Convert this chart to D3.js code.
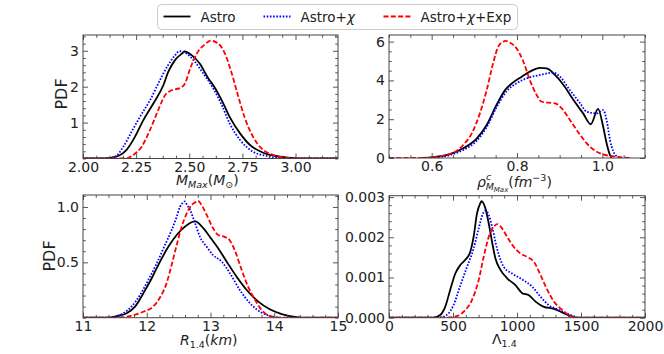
<!DOCTYPE html>
<html>
<head>
<meta charset="utf-8">
<script src="https://cdn.jsdelivr.net/npm/d3@7"></script>
<style>
  body { margin: 0; background: #fff; }
  svg { display: block; font-family: "DejaVu Sans", sans-serif; }
</style>
</head>
<body>
<svg id="fig"></svg>
<script>
// values, [x, pdf]
const mmaxAstro = [[2.0,0],[2.1,0],[2.166,0.07],[2.205,0.24],[2.245,0.61],[2.284,1.07],[2.331,1.53],[2.378,2.04],[2.401,2.41],[2.433,2.74],[2.469,2.94],[2.478,2.98],[2.511,2.88],[2.55,2.64],[2.59,2.23],[2.613,2.04],[2.653,1.62],[2.69,1.16],[2.739,0.70],[2.786,0.375],[2.848,0.16],[2.927,0.05],[3.02,0],[3.2,0]];
const mmaxChi = [[2.0,0],[2.1,0.005],[2.15,0.05],[2.19,0.33],[2.229,0.75],[2.268,1.16],[2.315,1.62],[2.362,2.18],[2.40,2.6],[2.433,2.87],[2.453,2.99],[2.488,2.92],[2.527,2.69],[2.566,2.37],[2.613,1.95],[2.653,1.49],[2.69,0.98],[2.74,0.51],[2.80,0.19],[2.864,0.07],[2.93,0.01],[3.0,0],[3.2,0]];
const mmaxExp = [[2.0,0],[2.2,0],[2.237,0.1],[2.276,0.33],[2.315,0.79],[2.354,1.35],[2.386,1.76],[2.417,1.90],[2.456,1.96],[2.48,2.09],[2.504,2.5],[2.535,2.92],[2.574,3.18],[2.6,3.28],[2.637,3.2],[2.668,2.92],[2.70,2.37],[2.731,1.72],[2.762,1.12],[2.80,0.61],[2.84,0.28],[2.895,0.1],[2.96,0.02],[3.05,0],[3.2,0]];

const rhoAstro = [[0.58,0],[0.604,0.04],[0.643,0.2],[0.674,0.5],[0.706,1.01],[0.729,1.7],[0.752,2.73],[0.772,3.5],[0.791,3.9],[0.811,4.19],[0.83,4.45],[0.854,4.65],[0.87,4.62],[0.889,4.28],[0.909,3.76],[0.932,3.0],[0.955,2.3],[0.973,1.74],[0.99,2.53],[1.002,1.61],[1.01,0.76],[1.018,0.15],[1.022,0]];
const rhoChi = [[0.6,0],[0.643,0.15],[0.674,0.41],[0.706,0.9],[0.729,1.6],[0.752,2.61],[0.776,3.45],[0.799,3.85],[0.823,4.11],[0.854,4.28],[0.885,4.4],[0.901,4.19],[0.924,3.5],[0.948,2.82],[0.963,2.39],[0.987,2.3],[1.002,2.47],[1.01,1.96],[1.018,0.93],[1.026,0.33],[1.037,0.05],[1.045,0]];
const rhoExp = [[0.5,0],[0.58,0],[0.62,0.1],[0.651,0.27],[0.674,0.67],[0.694,1.27],[0.713,2.3],[0.729,3.5],[0.744,4.88],[0.756,5.74],[0.768,6.0],[0.772,6.04],[0.784,5.94],[0.799,5.65],[0.815,4.96],[0.83,4.02],[0.846,3.25],[0.858,2.9],[0.873,2.85],[0.889,2.82],[0.905,2.56],[0.924,1.96],[0.948,1.19],[0.971,0.58],[0.995,0.24],[1.03,0.07],[1.065,0]];

const r14Astro = [[11,0],[11.4,0],[11.53,0.015],[11.685,0.04],[11.816,0.1],[11.946,0.22],[12.078,0.356],[12.208,0.506],[12.338,0.64],[12.47,0.747],[12.6,0.822],[12.73,0.867],[12.76,0.87],[12.887,0.808],[12.99,0.73],[13.12,0.627],[13.254,0.506],[13.41,0.37],[13.568,0.25],[13.75,0.145],[13.93,0.076],[14.117,0.033],[14.35,0.006],[14.5,0],[15,0]];
const r14Chi = [[11,0],[11.45,0],[11.63,0.04],[11.76,0.1],[11.894,0.205],[12.024,0.34],[12.156,0.49],[12.286,0.657],[12.39,0.79],[12.47,0.912],[12.52,1.0],[12.57,1.04],[12.6,1.05],[12.62,1.03],[12.68,0.973],[12.757,0.853],[12.835,0.73],[12.94,0.64],[13.04,0.566],[13.176,0.506],[13.306,0.4],[13.46,0.25],[13.62,0.13],[13.776,0.054],[13.985,0.01],[14.1,0]];
const r14Exp = [[11,0],[11.5,0],[11.737,0.015],[11.946,0.054],[12.1,0.1],[12.2,0.175],[12.31,0.31],[12.39,0.476],[12.47,0.657],[12.548,0.822],[12.627,0.943],[12.705,1.018],[12.78,1.048],[12.8,1.055],[12.86,1.018],[12.94,0.928],[13.04,0.808],[13.12,0.747],[13.22,0.73],[13.3,0.70],[13.38,0.61],[13.49,0.43],[13.59,0.28],[13.7,0.16],[13.8,0.07],[13.93,0.015],[14.1,0],[15,0]];

const lamAstro = [[0,0],[348,0],[400,0.000067],[439,0.00027],[478,0.00069],[518,0.0011],[557,0.00131],[596,0.00144],[635,0.00164],[661,0.00201],[688,0.0026],[714,0.00285],[722,0.0029],[753,0.00272],[779,0.00235],[805,0.00189],[831,0.00148],[871,0.00119],[923,0.00098],[988,0.00081],[1041,0.00061],[1093,0.00056],[1145,0.0004],[1210,0.00027],[1289,0.00022],[1341,0.00015],[1420,0.00004],[1472,0],[2000,0]];
const lamChi = [[0,0],[390,0],[452,0.00007],[504,0.00031],[557,0.0008],[609,0.00126],[661,0.00172],[701,0.00222],[735,0.0026],[753,0.00266],[779,0.00256],[805,0.00227],[844,0.00172],[897,0.00126],[962,0.0011],[1041,0.00095],[1119,0.00077],[1184,0.00052],[1249,0.00031],[1315,0.00021],[1394,0.0001],[1472,0]];
const lamExp = [[0,0],[430,0],[531,0.00004],[596,0.00019],[648,0.00044],[701,0.00094],[740,0.00152],[779,0.00201],[818,0.00226],[844,0.00233],[884,0.00222],[923,0.00201],[975,0.00176],[1027,0.0016],[1080,0.00151],[1132,0.00139],[1184,0.00106],[1237,0.00069],[1289,0.0004],[1354,0.00019],[1420,0.00004],[1472,0],[2000,0]];

const seriesNames = ['Astro', 'Astro+\u03c7', 'Astro+\u03c7+Exp'];

// tick values
const mmaxXTicks = [2.0, 2.25, 2.5, 2.75, 3.0];
const mmaxYTicks = [1, 2, 3];
const rhoXTicks = [0.6, 0.8, 1.0];
const rhoYTicks = [0, 2, 4, 6];
const r14XTicks = [11, 12, 13, 14, 15];
const r14YTicks = [0.5, 1.0];
const lamXTicks = [0, 500, 1000, 1500, 2000];
const lamYTicks = [0, 0.001, 0.002, 0.003];

const W = 664, H = 354;
const styles = [
  { color: '#000000', dash: null },
  { color: '#0000ff', dash: '1.6,1.6' },
  { color: '#ff0000', dash: '5,2.3' }
];
const frameColor = '#444';

const panels = [
  { id: 'mmax', box: [83, 35, 338, 158.5], xd: [2.0, 3.2], yd: [0, 3.44],
    xt: mmaxXTicks, yt: mmaxYTicks, xf: d3.format('.2f'), yf: d3.format('d'),
    xm: 0.0625, ym: 0.2, data: [mmaxAstro, mmaxChi, mmaxExp], ylab: [61, 94] },
  { id: 'rho', box: [389, 35, 645, 158], xd: [0.5, 1.1], yd: [0, 6.34],
    xt: rhoXTicks, yt: rhoYTicks, xf: d3.format('.1f'), yf: d3.format('d'),
    xm: 0.05, ym: 0.5, data: [rhoAstro, rhoChi, rhoExp] },
  { id: 'r14', box: [83, 195, 338, 317.7], xd: [11, 15], yd: [0, 1.108],
    xt: r14XTicks, yt: r14YTicks, xf: d3.format('d'), yf: d3.format('.1f'),
    xm: 0.2, ym: 0.1, data: [r14Astro, r14Chi, r14Exp], ylab: [49, 256] },
  { id: 'lam', box: [389, 195.7, 645, 317.7], xd: [0, 2000], yd: [0, 0.003035],
    xt: lamXTicks, yt: lamYTicks, xf: d3.format('d'), yf: d3.format('.3f'),
    xm: 100, ym: 0.0002, data: [lamAstro, lamChi, lamExp] }
];

const svg = d3.select('#fig').attr('width', W).attr('height', H);
svg.append('rect').attr('width', W).attr('height', H).attr('fill', '#fff');

function minorTicks(dom, step, major) {
  const out = [];
  const start = Math.ceil(dom[0] / step - 1e-6);
  for (let i = start; i * step <= dom[1] + 1e-9; i++) {
    const v = +(i * step).toFixed(8);
    if (!major.some(m => Math.abs(m - v) < step * 0.01)) out.push(v);
  }
  return out;
}

function styleAxis(g) {
  g.select('.domain').remove();
  g.selectAll('line').attr('stroke', frameColor).attr('stroke-width', 0.9);
  g.selectAll('text').attr('fill', '#222').attr('font-size', 14)
    .attr('font-family', '"DejaVu Sans", sans-serif');
}

panels.forEach(p => {
  const [x0, y0, x1, y1] = p.box;
  const x = d3.scaleLinear().domain(p.xd).range([x0, x1]);
  const y = d3.scaleLinear().domain(p.yd).range([y1, y0]);
  const g = svg.append('g');

  g.append('clipPath').attr('id', 'clip-' + p.id)
    .append('rect').attr('x', x0).attr('y', y0 - 1).attr('width', x1 - x0).attr('height', y1 - y0 + 1);

  const line = d3.line().x(d => x(d[0])).y(d => y(d[1])).curve(d3.curveMonotoneX);
  const curves = g.append('g').attr('clip-path', `url(#clip-${p.id})`);
  p.data.forEach((s, i) => {
    curves.append('path').datum(s)
      .attr('d', line)
      .attr('fill', 'none')
      .attr('stroke', styles[i].color)
      .attr('stroke-width', 1.8)
      .attr('stroke-linejoin', 'round')
      .attr('stroke-dasharray', styles[i].dash);
  });

  const xMinor = minorTicks(p.xd, p.xm, p.xt);
  const yMinor = minorTicks(p.yd, p.ym, p.yt);

  // bottom
  g.append('g').attr('transform', `translate(0,${y1})`)
    .call(d3.axisBottom(x).tickValues(p.xt).tickFormat(p.xf).tickSize(-5).tickPadding(3.5)).call(styleAxis);
  g.append('g').attr('transform', `translate(0,${y1})`)
    .call(d3.axisBottom(x).tickValues(xMinor).tickFormat('').tickSize(-2.8)).call(styleAxis);
  // top
  g.append('g').attr('transform', `translate(0,${y0})`)
    .call(d3.axisTop(x).tickValues(p.xt).tickFormat('').tickSize(-5)).call(styleAxis);
  g.append('g').attr('transform', `translate(0,${y0})`)
    .call(d3.axisTop(x).tickValues(xMinor).tickFormat('').tickSize(-2.8)).call(styleAxis);
  // left
  g.append('g').attr('transform', `translate(${x0},0)`)
    .call(d3.axisLeft(y).tickValues(p.yt).tickFormat(p.yf).tickSize(-5).tickPadding(4)).call(styleAxis);
  g.append('g').attr('transform', `translate(${x0},0)`)
    .call(d3.axisLeft(y).tickValues(yMinor).tickFormat('').tickSize(-2.8)).call(styleAxis);
  // right
  g.append('g').attr('transform', `translate(${x1},0)`)
    .call(d3.axisRight(y).tickValues(p.yt).tickFormat('').tickSize(-5)).call(styleAxis);
  g.append('g').attr('transform', `translate(${x1},0)`)
    .call(d3.axisRight(y).tickValues(yMinor).tickFormat('').tickSize(-2.8)).call(styleAxis);

  g.append('rect').attr('x', x0).attr('y', y0).attr('width', x1 - x0).attr('height', y1 - y0)
    .attr('fill', 'none').attr('stroke', frameColor).attr('stroke-width', 1);

  if (p.ylab) {
    g.append('text')
      .attr('transform', `translate(${p.ylab[0]},${p.ylab[1]}) rotate(-90)`)
      .attr('text-anchor', 'middle').attr('dy', '0.36em')
      .attr('font-size', 16).attr('fill', '#222').text('PDF');
  }
});

// x axis labels (mathtext-like)
function label(xs, ys, parts) {
  const t = svg.append('text').attr('x', xs).attr('y', ys).attr('fill', '#222').attr('font-size', 14);
  parts.forEach(pt => {
    const s = t.append('tspan').text(pt.t);
    if (pt.i) s.attr('font-style', 'italic');
    if (pt.s) s.attr('font-size', pt.s);
    if (pt.dy) s.attr('dy', pt.dy);
    if (pt.dx) s.attr('dx', pt.dx);
  });
  return t;
}

label(176, 184.5, [
  { t: 'M', i: 1 }, { t: 'Max', i: 1, s: 9.5, dy: 3 },
  { t: '(', dy: -3 }, { t: 'M', i: 1 }, { t: '\u2299', s: 9.5, dy: 3 }, { t: ')', dy: -3 }
]);
label(477, 186.5, [
  { t: '\u03c1', i: 1 }, { t: 'c', i: 1, s: 9.5, dy: -7 },
  { t: 'M', i: 1, s: 9.5, dy: 10, dx: -5.5 }, { t: 'Max', i: 1, s: 7, dy: 2 },
  { t: '(', dy: -5 }, { t: 'fm', i: 1 }, { t: '\u22123', s: 9.5, dy: -6 }, { t: ')', dy: 6 }
]);
label(180, 345, [
  { t: 'R', i: 1 }, { t: '1.4', s: 9.5, dy: 3 }, { t: '(', dy: -3 }, { t: 'km', i: 1 }, { t: ')' }
]);
label(492, 344, [
  { t: '\u039b' }, { t: '1.4', s: 9.5, dy: 3 }
]);

// legend
const leg = svg.append('g');
leg.append('rect').attr('x', 157.5).attr('y', 4.5).attr('width', 360).attr('height', 25)
  .attr('rx', 4).attr('fill', '#fff').attr('fill-opacity', 0.9)
  .attr('stroke', '#ccc').attr('stroke-width', 1);
const legX = [163.5, 263.5, 383.5];
seriesNames.forEach((name, i) => {
  leg.append('line').attr('x1', legX[i]).attr('x2', legX[i] + 27).attr('y1', 16.5).attr('y2', 16.5)
    .attr('stroke', styles[i].color).attr('stroke-width', 1.8)
    .attr('stroke-dasharray', styles[i].dash);
  const t = leg.append('text').attr('x', legX[i] + 37).attr('y', 21.5)
    .attr('font-size', 13.5).attr('fill', '#222');
  const bits = name.split('\u03c7');
  bits.forEach((b, k) => {
    t.append('tspan').text(b);
    if (k < bits.length - 1) t.append('tspan').attr('font-style', 'italic').text('\u03c7');
  });
});
</script>
</body>
</html>
